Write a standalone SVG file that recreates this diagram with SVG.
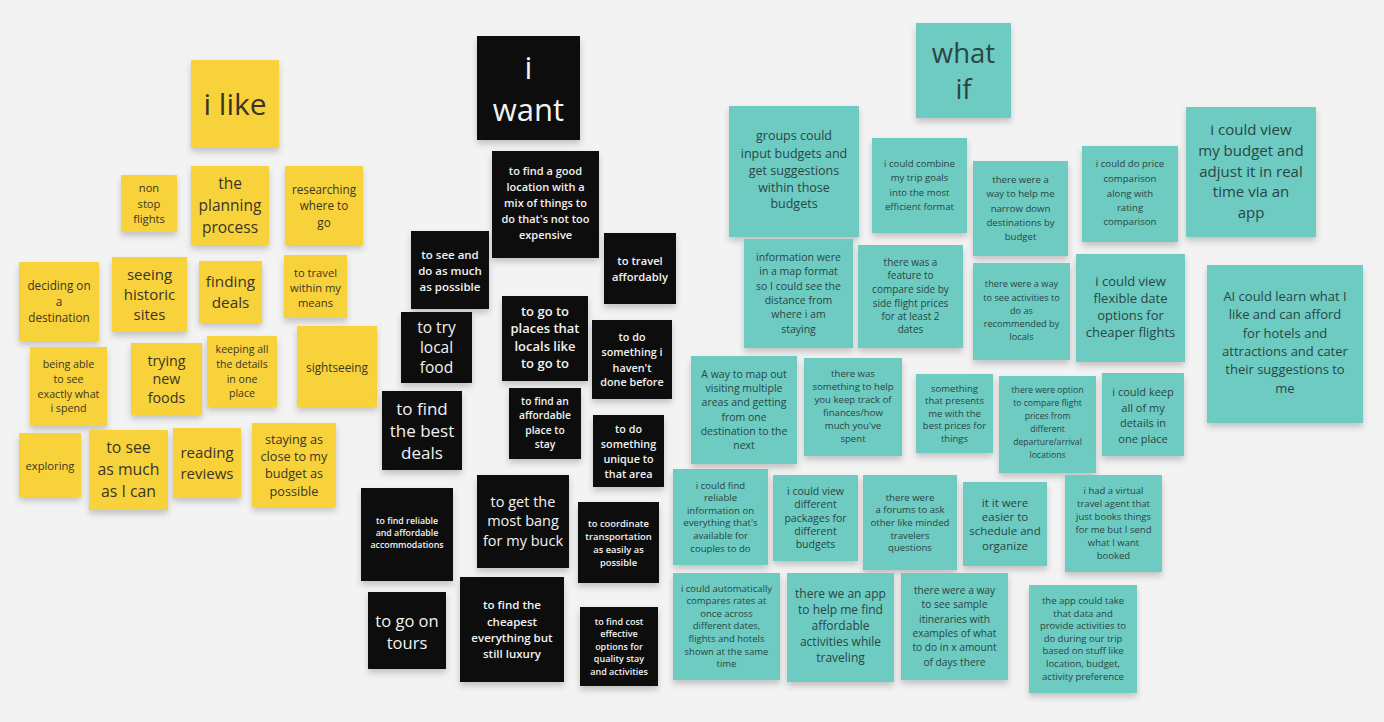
<svg xmlns="http://www.w3.org/2000/svg" width="1384" height="722" viewBox="0 0 1384 722">
<defs>
<filter id="sh" x="-20%" y="-20%" width="140%" height="150%">
<feDropShadow dx="0" dy="4" stdDeviation="3" flood-color="#000" flood-opacity="0.2"/>
</filter>
<style>
text{font-family:"Open Sans","Noto Sans","Liberation Sans",sans-serif;text-anchor:middle;dominant-baseline:central}
.y rect{fill:#f8d23b;filter:url(#sh)}
.b rect{fill:#0e0e0e;filter:url(#sh)}
.t rect{fill:#6dcbc2;filter:url(#sh)}
.y text{fill:#3b3525}
.b text{fill:#f2f2f2;font-weight:600}
.b text.n{font-weight:400}
.t text{fill:#2a4643}
</style>
</defs>
<rect width="1384" height="722" fill="#f3f3f3"/>
<g id="connectors"/>

<!-- yellow: i like -->
<g id="n-ilike" class="y"><rect x="191" y="60" width="88" height="88"/><text font-size="30"><tspan x="235" y="103">i like</tspan></text></g>
<g id="n-nonstop" class="y"><rect x="121" y="175" width="56" height="57"/><text font-size="11.2"><tspan x="149" y="187">non</tspan><tspan x="149" y="203">stop</tspan><tspan x="149" y="218">flights</tspan></text></g>
<g id="n-planning" class="y"><rect x="191" y="166" width="78" height="79"/><text font-size="15.5"><tspan x="230" y="183">the</tspan><tspan x="230" y="205">planning</tspan><tspan x="230" y="227">process</tspan></text></g>
<g id="n-researching" class="y"><rect x="285" y="166" width="78" height="79"/><text font-size="11.7"><tspan x="324" y="189">researching</tspan><tspan x="324" y="205">where to</tspan><tspan x="324" y="222">go</tspan></text></g>
<g id="n-deciding" class="y"><rect x="19" y="262" width="80" height="79"/><text font-size="11.7"><tspan x="59" y="285">deciding on</tspan><tspan x="59" y="301">a</tspan><tspan x="59" y="317">destination</tspan></text></g>
<g id="n-historic" class="y"><rect x="112" y="257" width="75" height="75"/><text font-size="15"><tspan x="149.5" y="274">seeing</tspan><tspan x="149.5" y="294">historic</tspan><tspan x="149.5" y="314">sites</tspan></text></g>
<g id="n-finding" class="y"><rect x="199" y="261" width="63" height="62"/><text font-size="15.3"><tspan x="230.5" y="281">finding</tspan><tspan x="230.5" y="302">deals</tspan></text></g>
<g id="n-means" class="y"><rect x="284" y="255" width="63" height="63"/><text font-size="11.2"><tspan x="315.5" y="272">to travel</tspan><tspan x="315.5" y="287">within my</tspan><tspan x="315.5" y="302">means</tspan></text></g>
<g id="n-spend" class="y"><rect x="30" y="347" width="77" height="79"/><text font-size="10.7"><tspan x="68.5" y="364">being able</tspan><tspan x="68.5" y="379">to see</tspan><tspan x="68.5" y="394">exactly what</tspan><tspan x="68.5" y="408">i spend</tspan></text></g>
<g id="n-foods" class="y"><rect x="131" y="343" width="71" height="72"/><text font-size="14.3"><tspan x="166.5" y="360">trying</tspan><tspan x="166.5" y="378">new</tspan><tspan x="166.5" y="397">foods</tspan></text></g>
<g id="n-keeping" class="y"><rect x="207" y="336" width="70" height="71"/><text font-size="10.6"><tspan x="242" y="349">keeping all</tspan><tspan x="242" y="364">the details</tspan><tspan x="242" y="379">in one</tspan><tspan x="242" y="393">place</tspan></text></g>
<g id="n-sightseeing" class="y"><rect x="297" y="326" width="80" height="81"/><text font-size="11.8"><tspan x="337" y="367">sightseeing</tspan></text></g>
<g id="n-exploring" class="y"><rect x="19" y="433" width="62" height="64"/><text font-size="11.2"><tspan x="50" y="465">exploring</tspan></text></g>
<g id="n-seemuch" class="y"><rect x="89" y="430" width="79" height="80"/><text font-size="15.8"><tspan x="128.5" y="447">to see</tspan><tspan x="128.5" y="469">as much</tspan><tspan x="128.5" y="491">as I can</tspan></text></g>
<g id="n-reviews" class="y"><rect x="173" y="428" width="68" height="70"/><text font-size="15"><tspan x="207" y="452">reading</tspan><tspan x="207" y="473">reviews</tspan></text></g>
<g id="n-staying" class="y"><rect x="252" y="423" width="84" height="84"/><text font-size="12.7"><tspan x="294" y="439">staying as</tspan><tspan x="294" y="456">close to my</tspan><tspan x="294" y="473">budget as</tspan><tspan x="294" y="491">possible</tspan></text></g>

<!-- black: i want -->
<g id="n-iwant" class="b"><rect x="477" y="36" width="103" height="104"/><text class="n" font-size="31"><tspan x="528.5" y="67">i</tspan><tspan x="528.5" y="109">want</tspan></text></g>
<g id="n-goodloc" class="b"><rect x="492" y="151" width="107" height="107"/><text font-size="11"><tspan x="545.5" y="170">to find a good</tspan><tspan x="545.5" y="186">location with a</tspan><tspan x="545.5" y="202">mix of things to</tspan><tspan x="545.5" y="218">do that's not too</tspan><tspan x="545.5" y="234">expensive</tspan></text></g>
<g id="n-seedo" class="b"><rect x="411" y="231" width="78" height="78"/><text font-size="11.5"><tspan x="450" y="254">to see and</tspan><tspan x="450" y="270">do as much</tspan><tspan x="450" y="286">as possible</tspan></text></g>
<g id="n-affordably" class="b"><rect x="604" y="233" width="72" height="71"/><text font-size="11.2"><tspan x="640" y="260">to travel</tspan><tspan x="640" y="276">affordably</tspan></text></g>
<g id="n-trylocal" class="b"><rect x="401" y="312" width="71" height="71"/><text class="n" font-size="15.5"><tspan x="436.5" y="327">to try</tspan><tspan x="436.5" y="347">local</tspan><tspan x="436.5" y="367">food</tspan></text></g>
<g id="n-locals" class="b"><rect x="502" y="296" width="86" height="85"/><text font-size="13"><tspan x="545" y="311">to go to</tspan><tspan x="545" y="328">places that</tspan><tspan x="545" y="346">locals like</tspan><tspan x="545" y="363">to go to</tspan></text></g>
<g id="n-havent" class="b"><rect x="592" y="320" width="80" height="79"/><text font-size="10.8"><tspan x="632" y="336">to do</tspan><tspan x="632" y="351">something i</tspan><tspan x="632" y="367">haven't</tspan><tspan x="632" y="381">done before</tspan></text></g>
<g id="n-bestdeals" class="b"><rect x="382" y="391" width="80" height="79"/><text class="n" font-size="17"><tspan x="422" y="408">to find</tspan><tspan x="422" y="430">the best</tspan><tspan x="422" y="452">deals</tspan></text></g>
<g id="n-affordplace" class="b"><rect x="509" y="388" width="72" height="71"/><text font-size="10.3"><tspan x="545" y="401">to find an</tspan><tspan x="545" y="415">affordable</tspan><tspan x="545" y="430">place to</tspan><tspan x="545" y="444">stay</tspan></text></g>
<g id="n-unique" class="b"><rect x="593" y="415" width="71" height="72"/><text font-size="10.8"><tspan x="628.5" y="428">to do</tspan><tspan x="628.5" y="443">something</tspan><tspan x="628.5" y="458">unique to</tspan><tspan x="628.5" y="473">that area</tspan></text></g>
<g id="n-reliable" class="b"><rect x="361" y="488" width="92" height="93"/><text font-size="8.8"><tspan x="407" y="521">to find reliable</tspan><tspan x="407" y="533">and affordable</tspan><tspan x="407" y="545">accommodations</tspan></text></g>
<g id="n-bang" class="b"><rect x="477" y="475" width="92" height="93"/><text class="n" font-size="14.5"><tspan x="523" y="501">to get the</tspan><tspan x="523" y="520">most bang</tspan><tspan x="523" y="540">for my buck</tspan></text></g>
<g id="n-coordinate" class="b"><rect x="578" y="502" width="81" height="81"/><text font-size="9.4"><tspan x="618.5" y="523">to coordinate</tspan><tspan x="618.5" y="536">transportation</tspan><tspan x="618.5" y="549">as easily as</tspan><tspan x="618.5" y="562">possible</tspan></text></g>
<g id="n-tours" class="b"><rect x="368" y="592" width="78" height="77"/><text class="n" font-size="16.5"><tspan x="407" y="620">to go on</tspan><tspan x="407" y="642">tours</tspan></text></g>
<g id="n-cheapest" class="b"><rect x="460" y="577" width="104" height="105"/><text font-size="11.5"><tspan x="512" y="604">to find the</tspan><tspan x="512" y="621">cheapest</tspan><tspan x="512" y="637">everything but</tspan><tspan x="512" y="653">still luxury</tspan></text></g>
<g id="n-costeff" class="b"><rect x="580" y="607" width="78" height="79"/><text font-size="9"><tspan x="619" y="621">to find cost</tspan><tspan x="619" y="633">effective</tspan><tspan x="619" y="646">options for</tspan><tspan x="619" y="658">quality stay</tspan><tspan x="619" y="671">and activities</tspan></text></g>

<!-- teal: what if -->
<g id="n-whatif" class="t"><rect x="916" y="23" width="95" height="95"/><text font-size="27.5"><tspan x="963.5" y="52">what</tspan><tspan x="963.5" y="88">if</tspan></text></g>
<g id="n-groups" class="t"><rect x="729" y="106" width="130" height="131"/><text font-size="12.5"><tspan x="794" y="135">groups could</tspan><tspan x="794" y="153">input budgets and</tspan><tspan x="794" y="170">get suggestions</tspan><tspan x="794" y="187">within those</tspan><tspan x="794" y="203">budgets</tspan></text></g>
<g id="n-combine" class="t"><rect x="872" y="138" width="95" height="95"/><text font-size="9.6"><tspan x="919.5" y="163">i could combine</tspan><tspan x="919.5" y="177">my trip goals</tspan><tspan x="919.5" y="192">into the most</tspan><tspan x="919.5" y="206">efficient format</tspan></text></g>
<g id="n-narrow" class="t"><rect x="973" y="161" width="95" height="95"/><text font-size="9.6"><tspan x="1020.5" y="179">there were a</tspan><tspan x="1020.5" y="193">way to help  me</tspan><tspan x="1020.5" y="208">narrow down</tspan><tspan x="1020.5" y="222">destinations by</tspan><tspan x="1020.5" y="236">budget</tspan></text></g>
<g id="n-pricecomp" class="t"><rect x="1082" y="146" width="96" height="96"/><text font-size="9.6"><tspan x="1130" y="163">i could do price</tspan><tspan x="1130" y="178">comparison</tspan><tspan x="1130" y="193">along with</tspan><tspan x="1130" y="207">rating</tspan><tspan x="1130" y="221">comparison</tspan></text></g>
<g id="n-viewbudget" class="t"><rect x="1186" y="107" width="130" height="130"/><text font-size="15"><tspan x="1251" y="129">i could view</tspan><tspan x="1251" y="150">my budget and</tspan><tspan x="1251" y="171">adjust it in real</tspan><tspan x="1251" y="191">time via an</tspan><tspan x="1251" y="212">app</tspan></text></g>
<g id="n-mapformat" class="t"><rect x="744" y="239" width="109" height="109"/><text font-size="10.5"><tspan x="798.5" y="257">information were</tspan><tspan x="798.5" y="271">in a map format</tspan><tspan x="798.5" y="286">so I could see the</tspan><tspan x="798.5" y="300">distance from</tspan><tspan x="798.5" y="314">where i am</tspan><tspan x="798.5" y="329">staying</tspan></text></g>
<g id="n-sidebyside" class="t"><rect x="858" y="245" width="105" height="103"/><text font-size="10"><tspan x="910.5" y="262">there was a</tspan><tspan x="910.5" y="275">feature to</tspan><tspan x="910.5" y="289">compare side by</tspan><tspan x="910.5" y="303">side flight prices</tspan><tspan x="910.5" y="316">for at least 2</tspan><tspan x="910.5" y="329">dates</tspan></text></g>
<g id="n-recommended" class="t"><rect x="973" y="263" width="97" height="97"/><text font-size="9.2"><tspan x="1021.5" y="283">there were a way</tspan><tspan x="1021.5" y="297">to see activities to</tspan><tspan x="1021.5" y="310">do as</tspan><tspan x="1021.5" y="323">recommended by</tspan><tspan x="1021.5" y="336">locals</tspan></text></g>
<g id="n-flexible" class="t"><rect x="1076" y="254" width="109" height="108"/><text font-size="13"><tspan x="1130.5" y="281">i could view</tspan><tspan x="1130.5" y="298">flexible date</tspan><tspan x="1130.5" y="315">options for</tspan><tspan x="1130.5" y="332">cheaper flights</tspan></text></g>
<g id="n-ai" class="t"><rect x="1207" y="265" width="156" height="158"/><text font-size="13"><tspan x="1285" y="296">AI could learn what I</tspan><tspan x="1285" y="314">like and can afford</tspan><tspan x="1285" y="333">for hotels and</tspan><tspan x="1285" y="351">attractions and cater</tspan><tspan x="1285" y="369">their suggestions to</tspan><tspan x="1285" y="388">me</tspan></text></g>
<g id="n-mapout" class="t"><rect x="691" y="356" width="106" height="108"/><text font-size="10.5"><tspan x="744" y="374">A way to map out</tspan><tspan x="744" y="388">visiting multiple</tspan><tspan x="744" y="402">areas and getting</tspan><tspan x="744" y="417">from one</tspan><tspan x="744" y="431">destination to the</tspan><tspan x="744" y="445">next</tspan></text></g>
<g id="n-finances" class="t"><rect x="804" y="358" width="98" height="98"/><text font-size="9.6"><tspan x="853" y="373">there was</tspan><tspan x="853" y="386">something to help</tspan><tspan x="853" y="399">you keep track of</tspan><tspan x="853" y="412">finances/how</tspan><tspan x="853" y="425">much you've</tspan><tspan x="853" y="438">spent</tspan></text></g>
<g id="n-presents" class="t"><rect x="916" y="374" width="77" height="79"/><text font-size="9.5"><tspan x="954.5" y="388">something</tspan><tspan x="954.5" y="400">that presents</tspan><tspan x="954.5" y="413">me with the</tspan><tspan x="954.5" y="425">best prices for</tspan><tspan x="954.5" y="438">things</tspan></text></g>
<g id="n-departure" class="t"><rect x="999" y="376" width="97" height="97"/><text font-size="8.6"><tspan x="1047.5" y="390">there were option</tspan><tspan x="1047.5" y="403">to compare flight</tspan><tspan x="1047.5" y="416">prices from</tspan><tspan x="1047.5" y="429">different</tspan><tspan x="1047.5" y="442">departure/arrival</tspan><tspan x="1047.5" y="455">locations</tspan></text></g>
<g id="n-keepall" class="t"><rect x="1102" y="373" width="82" height="83"/><text font-size="11"><tspan x="1143" y="391">i could keep</tspan><tspan x="1143" y="407">all of my</tspan><tspan x="1143" y="422">details in</tspan><tspan x="1143" y="438">one place</tspan></text></g>
<g id="n-couples" class="t"><rect x="673" y="469" width="95" height="96"/><text font-size="9.6"><tspan x="720.5" y="485">i could find</tspan><tspan x="720.5" y="497">reliable</tspan><tspan x="720.5" y="510">information on</tspan><tspan x="720.5" y="522">everything that's</tspan><tspan x="720.5" y="535">available for</tspan><tspan x="720.5" y="548">couples to do</tspan></text></g>
<g id="n-packages" class="t"><rect x="773" y="475" width="85" height="86"/><text font-size="10.5"><tspan x="815.5" y="491">i could view</tspan><tspan x="815.5" y="504">different</tspan><tspan x="815.5" y="518">packages for</tspan><tspan x="815.5" y="531">different</tspan><tspan x="815.5" y="544">budgets</tspan></text></g>
<g id="n-forums" class="t"><rect x="863" y="475" width="94" height="95"/><text font-size="9.6"><tspan x="910" y="497">there were</tspan><tspan x="910" y="509">a forums to ask</tspan><tspan x="910" y="522">other like minded</tspan><tspan x="910" y="535">travelers</tspan><tspan x="910" y="547">questions</tspan></text></g>
<g id="n-schedule" class="t"><rect x="963" y="482" width="84" height="84"/><text font-size="11.5"><tspan x="1005" y="502">it it were</tspan><tspan x="1005" y="516">easier to</tspan><tspan x="1005" y="530">schedule and</tspan><tspan x="1005" y="545">organize</tspan></text></g>
<g id="n-virtual" class="t"><rect x="1065" y="475" width="97" height="97"/><text font-size="9.5"><tspan x="1113.5" y="490">i had a virtual</tspan><tspan x="1113.5" y="503">travel agent that</tspan><tspan x="1113.5" y="516">just books things</tspan><tspan x="1113.5" y="529">for me but I send</tspan><tspan x="1113.5" y="542">what I want</tspan><tspan x="1113.5" y="555">booked</tspan></text></g>
<g id="n-automatic" class="t"><rect x="673" y="573" width="107" height="107"/><text font-size="9.5"><tspan x="726.5" y="588">i could automatically</tspan><tspan x="726.5" y="600">compares rates at</tspan><tspan x="726.5" y="613">once across</tspan><tspan x="726.5" y="625">different dates,</tspan><tspan x="726.5" y="638">flights and hotels</tspan><tspan x="726.5" y="651">shown at the same</tspan><tspan x="726.5" y="663">time</tspan></text></g>
<g id="n-appfind" class="t"><rect x="787" y="573" width="107" height="109"/><text font-size="12"><tspan x="840.5" y="593">there we an app</tspan><tspan x="840.5" y="609">to help me find</tspan><tspan x="840.5" y="625">affordable</tspan><tspan x="840.5" y="641">activities while</tspan><tspan x="840.5" y="657">traveling</tspan></text></g>
<g id="n-itineraries" class="t"><rect x="901" y="573" width="107" height="107"/><text font-size="10.2"><tspan x="954.5" y="590">there were a way</tspan><tspan x="954.5" y="604">to see sample</tspan><tspan x="954.5" y="619">itineraries with</tspan><tspan x="954.5" y="633">examples of what</tspan><tspan x="954.5" y="647">to do in x amount</tspan><tspan x="954.5" y="662">of days there</tspan></text></g>
<g id="n-appdata" class="t"><rect x="1029" y="585" width="108" height="108"/><text font-size="9.5"><tspan x="1083" y="600">the app could take</tspan><tspan x="1083" y="613">that data and</tspan><tspan x="1083" y="625">provide activities to</tspan><tspan x="1083" y="638">do during our trip</tspan><tspan x="1083" y="650">based on stuff like</tspan><tspan x="1083" y="663">location, budget,</tspan><tspan x="1083" y="676">activity preference</tspan></text></g>
</svg>
